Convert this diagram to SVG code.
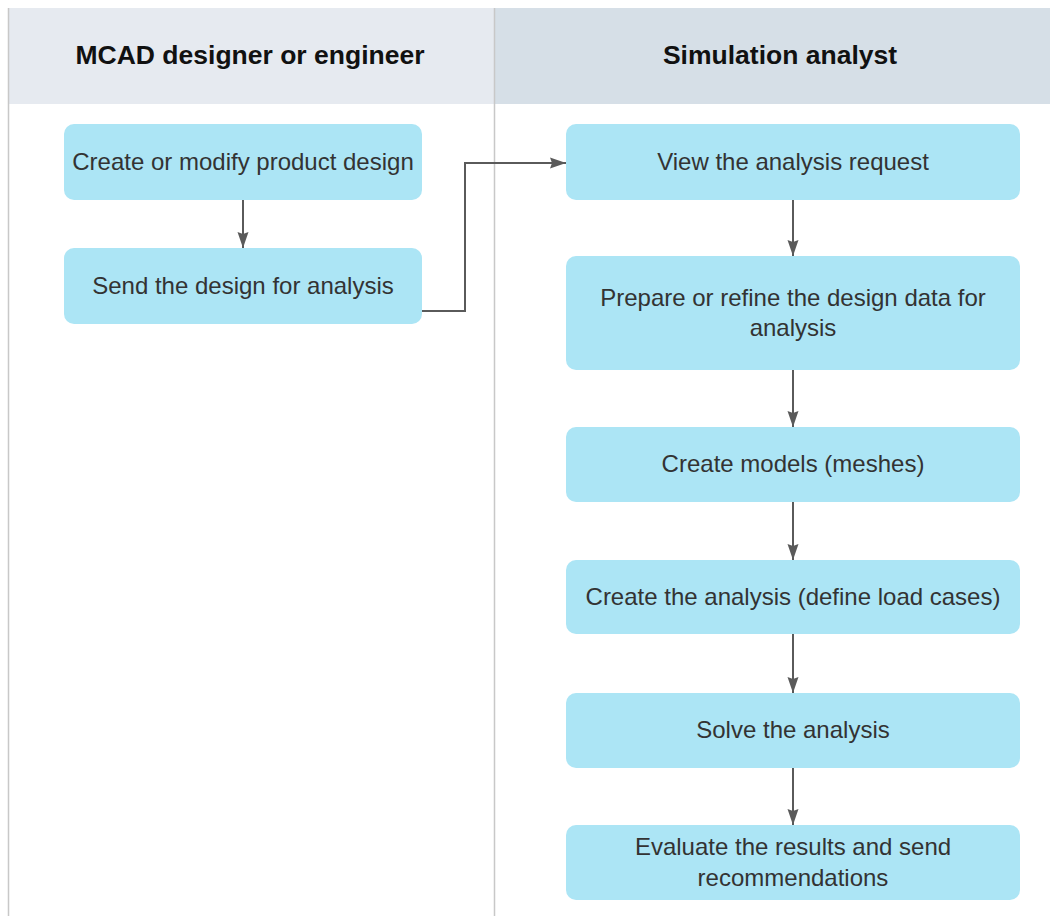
<svg xmlns="http://www.w3.org/2000/svg" width="1050" height="916" viewBox="0 0 1050 916">
  <style>
    .lane-head-a { fill: #e6eaf0; }
    .lane-head-b { fill: #d6dfe7; }
    .lane-line { stroke: #c8c8c8; stroke-width: 1.5; fill: none; }
    .head { font-family: "Liberation Sans", Arial, sans-serif; font-size: 26.5px; font-weight: bold; fill: #111; text-anchor: middle; }
    .box { fill: #ace5f5; }
    .label { font-family: "Liberation Sans", Arial, sans-serif; font-size: 24px; fill: #333; text-anchor: middle; }
    .edge { stroke: #5a5a5a; stroke-width: 2; fill: none; marker-end: url(#arrow); }
  </style>
  <defs>
    <marker id="arrow" viewBox="0 0 16 12" refX="16" refY="6" markerWidth="16" markerHeight="12" markerUnits="userSpaceOnUse" orient="auto">
      <path d="M0,0.5 L16,6 L0,11.5 L2,6 z" fill="#5a5a5a"/>
    </marker>
  </defs>

  <rect width="1050" height="916" fill="#ffffff"/>

  <!-- swimlane headers -->
  <g id="lanes">
    <rect class="lane-head-a" x="8" y="8" width="486" height="96"/>
    <rect class="lane-head-b" x="494" y="8" width="556" height="96"/>
    <line class="lane-line" x1="8.5" y1="8" x2="8.5" y2="916"/>
    <line class="lane-line" x1="494.5" y1="8" x2="494.5" y2="916"/>
    <text class="head" x="250" y="64">MCAD designer or engineer</text>
    <text class="head" x="780" y="64">Simulation analyst</text>
  </g>

  <!-- connectors -->
  <g id="connectors">
    <path class="edge" d="M243,200 V248"/>
    <path class="edge" d="M422,311 H465 V163 H566"/>
    <path class="edge" d="M793,200 V256"/>
    <path class="edge" d="M793,370 V427"/>
    <path class="edge" d="M793,502 V560"/>
    <path class="edge" d="M793,634 V693"/>
    <path class="edge" d="M793,768 V825"/>
  </g>

  <g id="n1">
    <rect class="box" x="64" y="124" width="358" height="76" rx="10"/>
    <text class="label" x="243" y="170">Create or modify product design</text>
  </g>
  <g id="n2">
    <rect class="box" x="64" y="248" width="358" height="76" rx="10"/>
    <text class="label" x="243" y="294">Send the design for analysis</text>
  </g>
  <g id="n3">
    <rect class="box" x="566" y="124" width="454" height="76" rx="10"/>
    <text class="label" x="793" y="170">View the analysis request</text>
  </g>
  <g id="n4">
    <rect class="box" x="566" y="256" width="454" height="114" rx="10"/>
    <text class="label" x="793" y="306">Prepare or refine the design data for</text>
    <text class="label" x="793" y="336">analysis</text>
  </g>
  <g id="n5">
    <rect class="box" x="566" y="427" width="454" height="75" rx="10"/>
    <text class="label" x="793" y="472">Create models (meshes)</text>
  </g>
  <g id="n6">
    <rect class="box" x="566" y="560" width="454" height="74" rx="10"/>
    <text class="label" x="793" y="605">Create the analysis (define load cases)</text>
  </g>
  <g id="n7">
    <rect class="box" x="566" y="693" width="454" height="75" rx="10"/>
    <text class="label" x="793" y="738">Solve the analysis</text>
  </g>
  <g id="n8">
    <rect class="box" x="566" y="825" width="454" height="75" rx="10"/>
    <text class="label" x="793" y="855">Evaluate the results and send</text>
    <text class="label" x="793" y="886">recommendations</text>
  </g>
</svg>
